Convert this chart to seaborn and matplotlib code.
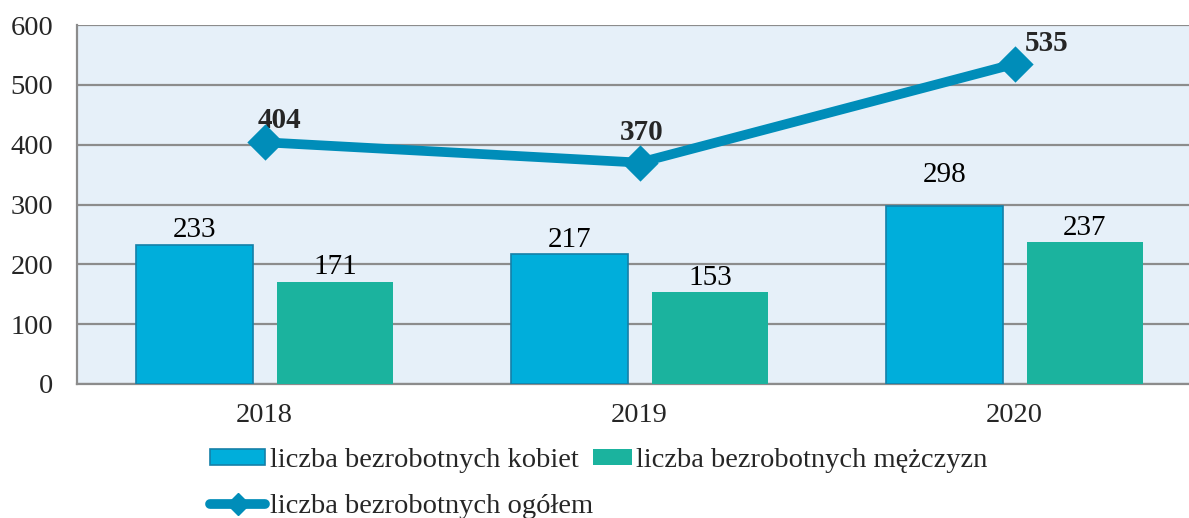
import matplotlib
matplotlib.use('Agg')
import matplotlib.pyplot as plt
import seaborn as sns
import pandas as pd
from matplotlib.patches import Patch
from matplotlib.lines import Line2D

# data
years = ['2018', '2019', '2020']
women = [233, 217, 298]
men = [171, 153, 237]
total = [404, 370, 535]

lab_women = 'liczba bezrobotnych kobiet'
lab_men = 'liczba bezrobotnych mężczyzn'
lab_total = 'liczba bezrobotnych ogółem'

c_women = '#00AEDB'
c_women_edge = '#1580A8'
c_men = '#1BB39E'
c_line = '#008DB9'
c_bg = '#E6F0F9'
c_grid = '#8C8C8C'

sns.set_style('white')
plt.rcParams['font.family'] = ['Liberation Serif', 'DejaVu Serif']
plt.rcParams['font.size'] = 20.5

df = pd.DataFrame({
    'rok': years * 2,
    'wartosc': women + men,
    'grupa': [lab_women] * 3 + [lab_men] * 3,
})

fig = plt.figure(figsize=(11.89, 5.18), dpi=100)
ax = fig.add_axes([0.0648, 0.2587, 0.9352, 0.693])
ax.set_facecolor(c_bg)

sns.barplot(data=df, x='rok', y='wartosc', hue='grupa', order=years,
            palette=[c_women, c_men], saturation=1, width=0.75, gap=0.17,
            legend=False, ax=ax, zorder=3)
for p in ax.patches[:3]:
    p.set_edgecolor(c_women_edge)
    p.set_linewidth(1.2)
for p in ax.patches[3:]:
    p.set_linewidth(0)

bar_texts = []
for cont in ax.containers:
    bar_texts += ax.bar_label(cont, padding=1, fontsize=21, color='black')
# in the original the 2020 women label sits higher, clear of the gridline
bar_texts[2].xyann = (0, 13)

sns.pointplot(x=years, y=total, color=c_line, markers='D', markersize=13,
              linewidth=7, ax=ax, zorder=5)
# label shifts (points) of the totals, as in the original
shifts = [(11, 6), (1.5, 12), (23, 5)]
for i, v in enumerate(total):
    ax.annotate(str(v), (i, v), xytext=shifts[i], textcoords='offset points',
                ha='center', va='bottom', fontsize=21, fontweight='bold')

ax.set_ylim(0, 600)
ax.set_yticks(range(0, 601, 100))
ax.set_xticks([-0.5, 0.5, 1.5, 2.5], minor=True)
ax.set_xlim(-0.5, 2.465)
ax.yaxis.grid(True, color=c_grid, linewidth=1.6, zorder=0)
ax.set_axisbelow(True)
ax.set_xlabel('')
ax.set_ylabel('')
for s in ['top', 'right']:
    ax.spines[s].set_visible(False)
for s in ['left', 'bottom']:
    ax.spines[s].set_color(c_grid)
    ax.spines[s].set_linewidth(1.6)
ax.tick_params(axis='y', length=7, width=1.4, color=c_grid, pad=10)
ax.tick_params(axis='x', which='major', length=0, pad=14)
ax.tick_params(axis='x', which='minor', length=7, width=1.4, color=c_grid)

# legend: women + total in the first column, men beside women
h_women = Patch(facecolor=c_women, edgecolor=c_women_edge, linewidth=1.2, label=lab_women)
h_total = Line2D([0], [0], color=c_line, linewidth=7, marker='D', markersize=11,
                 solid_capstyle='round', label=lab_total)
h_men = Patch(facecolor=c_men, edgecolor='none', label=lab_men)

leg1 = fig.legend(handles=[h_women, h_total], loc='upper left',
                  bbox_to_anchor=(0.1766, 0.135), frameon=False,
                  handlelength=1.95, handleheight=0.5, handletextpad=0.15,
                  labelspacing=0.75, borderaxespad=0, borderpad=0)
fig.legend(handles=[h_men], loc='upper left', bbox_to_anchor=(0.4987, 0.135),
           frameon=False, handlelength=1.37, handleheight=0.5,
           handletextpad=0.15, borderaxespad=0, borderpad=0)

fig.savefig('out.png', dpi=100)
